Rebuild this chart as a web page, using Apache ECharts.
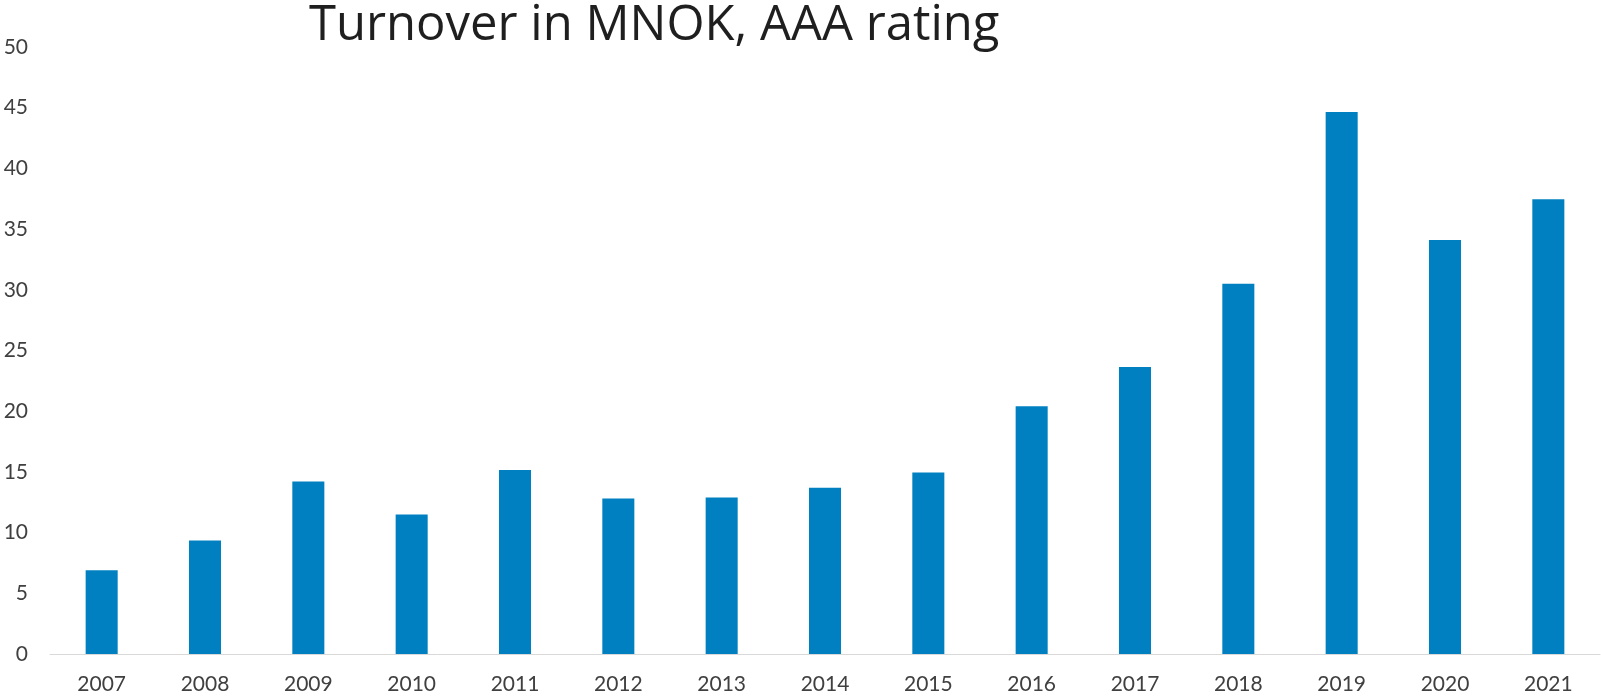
<!DOCTYPE html>
<html>
<head>
<meta charset="utf-8">
<script src="https://cdn.jsdelivr.net/npm/echarts@6/dist/echarts.min.js"></script>
<style>
html,body{margin:0;padding:0;background:#fff;}
#chart{width:1601px;height:700px;}
</style>
</head>
<body>
<div id="chart"></div>
<script>
const titleText = 'Turnover in MNOK, AAA rating';
const categories = ['2007','2008','2009','2010','2011','2012','2013','2014','2015','2016','2017','2018','2019','2020','2021'];
const turnover = [6.9, 9.35, 14.2, 11.5, 15.15, 12.8, 12.9, 13.7, 14.95, 20.4, 23.65, 30.5, 44.65, 34.1, 37.45];

const chart = echarts.init(document.getElementById('chart'), null, {renderer: 'canvas'});
chart.setOption({
  animation: false,
  backgroundColor: '#ffffff',
  title: {
    text: titleText,
    left: 304,
    top: -3,
    textStyle: {fontFamily: 'Open Sans', fontSize: 49, fontWeight: 'normal', color: '#1f1f1f'}
  },
  grid: {left: 50, right: 1, top: 47, bottom: 46, containLabel: false},
  xAxis: {
    type: 'category',
    data: categories,
    axisLine: {show: true, lineStyle: {color: '#d9d9d9', width: 1}},
    axisTick: {show: false},
    axisLabel: {fontFamily: 'Lato', fontSize: 21, color: '#404040', margin: 20}
  },
  yAxis: {
    type: 'value',
    min: 0, max: 50, interval: 5,
    splitLine: {show: false},
    axisLine: {show: false},
    axisTick: {show: false},
    axisLabel: {fontFamily: 'Lato', fontSize: 21, color: '#404040', margin: 22}
  },
  series: [{
    type: 'bar',
    data: turnover,
    barWidth: '31%',
    itemStyle: {color: '#0080c0'}
  }]
});
</script>
</body>
</html>
